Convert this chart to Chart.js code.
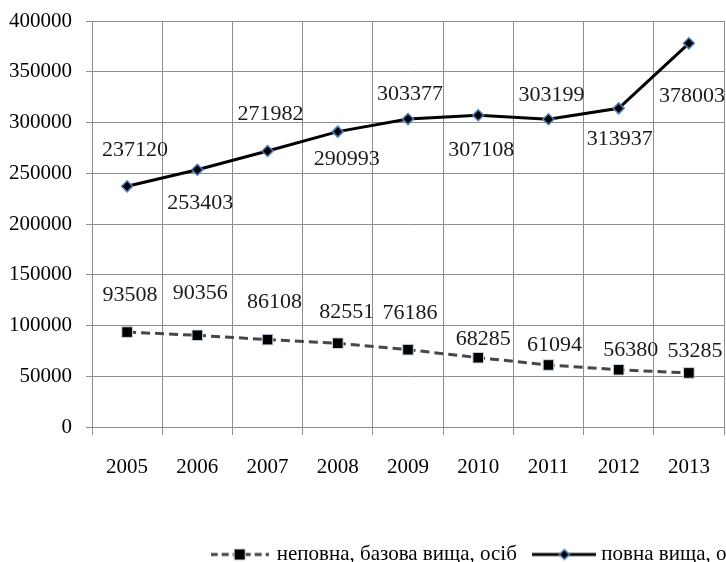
<!DOCTYPE html>
<html lang="uk">
<head>
<meta charset="utf-8">
<title>Чисельність осіб за рівнем освіти, 2005–2013</title>
<script src="https://cdn.jsdelivr.net/npm/chart.js@4.4.1/dist/chart.umd.min.js"></script>
<style>
  html, body { margin: 0; padding: 0; background: #ffffff; overflow: hidden; }
  #wrap { width: 726px; height: 562px; overflow: hidden; }
  canvas { display: block; }
</style>
</head>
<body>
<div id="wrap"><canvas id="chart" width="966" height="562"></canvas></div>
<script>
// Years on the category axis
const years = ['2005', '2006', '2007', '2008', '2009', '2010', '2011', '2012', '2013'];

// Series names
const partialName = 'неповна, базова вища, осіб';
const fullName = 'повна вища, осіб';

// Number of people per year
const partialValues = [93508, 90356, 86108, 82551, 76186, 68285, 61094, 56380, 53285];
const fullValues = [237120, 253403, 271982, 290993, 303377, 307108, 303199, 313937, 378003];

// Value axis ticks
const yMin = 0;
const yMax = 400000;
const yStep = 50000;

// Where each value label sits relative to its point (pixels: right, down)
const partialLabelShift = [[3, -37], [3, -42], [7, -37], [9, -31], [2, -36], [5, -18], [6, -20], [12, -20], [6, -22]];
const fullLabelShift = [[8, -36], [3, 33], [3, -37], [9, 28], [2, -25], [3, 35], [3, -24], [1, 31], [3, 53]];

const CANVAS_W = 966;
const PLOT_RIGHT = 724;
const SERIF = '"Liberation Serif", "Times New Roman", "DejaVu Serif", serif';
const GRID = '#8e8e8e';

// Small line-with-marker swatches for the legend
function swatch(width, dashed) {
  const c = document.createElement('canvas');
  c.width = width;
  c.height = 14;
  const g = c.getContext('2d');
  const cy = 7;
  g.lineWidth = 3;
  g.strokeStyle = dashed ? '#404040' : '#000000';
  g.setLineDash(dashed ? [7, 4] : []);
  g.beginPath();
  g.moveTo(0, cy);
  g.lineTo(width, cy);
  g.stroke();
  g.setLineDash([]);
  const cx = width / 2;
  if (dashed) {
    g.fillStyle = '#000000';
    g.fillRect(cx - 5, cy - 5, 10, 10);
    g.strokeStyle = '#c9d4e6';
    g.lineWidth = 1;
    g.strokeRect(cx - 5.5, cy - 5.5, 11, 11);
  } else {
    g.beginPath();
    g.moveTo(cx - 5, cy);
    g.lineTo(cx, cy - 5);
    g.lineTo(cx + 5, cy);
    g.lineTo(cx, cy + 5);
    g.closePath();
    g.fillStyle = '#000000';
    g.fill();
    g.strokeStyle = '#4f81bd';
    g.lineWidth = 1.5;
    g.stroke();
  }
  return c;
}
const partialSwatch = swatch(58, true);
const fullSwatch = swatch(64, false);

// Writes the value next to each point
const valueLabels = {
  id: 'valueLabels',
  afterDatasetsDraw(chart) {
    const ctx = chart.ctx;
    ctx.save();
    ctx.font = '22px ' + SERIF;
    ctx.fillStyle = '#1a1a1a';
    ctx.textAlign = 'center';
    ctx.textBaseline = 'middle';
    chart.data.datasets.forEach((ds, i) => {
      const meta = chart.getDatasetMeta(i);
      const shifts = ds.labelShift;
      meta.data.forEach((pt, j) => {
        const s = shifts[j];
        ctx.fillText(String(ds.data[j]), pt.x + s[0], pt.y + s[1]);
      });
    });
    ctx.restore();
  }
};

new Chart(document.getElementById('chart'), {
  type: 'line',
  data: {
    labels: years,
    datasets: [
      {
        label: partialName,
        data: partialValues,
        labelShift: partialLabelShift,
        swatch: partialSwatch,
        borderColor: '#474747',
        borderWidth: 3,
        borderDash: [9, 5],
        pointStyle: 'rect',
        pointRadius: 7.5,
        pointBackgroundColor: '#000000',
        pointBorderColor: '#c9d4e6',
        pointBorderWidth: 1,
        tension: 0
      },
      {
        label: fullName,
        data: fullValues,
        labelShift: fullLabelShift,
        swatch: fullSwatch,
        borderColor: '#000000',
        borderWidth: 3,
        pointStyle: 'rectRot',
        pointRadius: 5.5,
        pointBackgroundColor: '#000000',
        pointBorderColor: '#4f81bd',
        pointBorderWidth: 1.5,
        tension: 0
      }
    ]
  },
  options: {
    responsive: false,
    animation: false,
    devicePixelRatio: 1,
    layout: { padding: { top: 21, right: 0, left: 0, bottom: 0 } },
    plugins: {
      tooltip: { enabled: false },
      legend: {
        position: 'bottom',
        align: 'center',
        maxHeight: 39,
        labels: {
          usePointStyle: true,
          pointStyleWidth: 53,
          padding: 21,
          color: '#000000',
          font: { family: SERIF, size: 21 },
          generateLabels(chart) {
            return chart.data.datasets.map((ds, i) => ({
              text: ds.label,
              pointStyle: ds.swatch,
              fillStyle: '#000000',
              strokeStyle: '#000000',
              lineWidth: 0,
              fontColor: '#000000',
              hidden: false,
              datasetIndex: i
            }));
          }
        }
      }
    },
    scales: {
      x: {
        type: 'category',
        offset: true,
        afterFit(scale) { scale.height = 96; },
        grid: {
          offset: true,
          color: GRID,
          lineWidth: 1,
          tickLength: 8,
          drawTicks: true
        },
        border: { color: GRID, width: 1 },
        ticks: {
          color: '#000000',
          padding: 20,
          maxRotation: 0,
          font: { family: SERIF, size: 21 }
        }
      },
      y: {
        min: yMin,
        max: yMax,
        afterFit(scale) {
          scale.width = 92;
          scale.paddingTop = 0;
          scale.paddingBottom = 0;
        },
        grid: {
          color: GRID,
          lineWidth: 1,
          tickLength: 6
        },
        border: { color: GRID, width: 1 },
        ticks: {
          stepSize: yStep,
          color: '#000000',
          padding: 14,
          font: { family: SERIF, size: 21 },
          callback: (v) => String(v)
        }
      },
      // empty band on the right that keeps the plot clear of the far edge
      side: {
        type: 'linear',
        position: 'right',
        display: true,
        afterFit(scale) {
          scale.width = CANVAS_W - PLOT_RIGHT;
          scale.paddingTop = 0;
          scale.paddingBottom = 0;
        },
        grid: { display: false, drawTicks: false },
        border: { display: false },
        ticks: { display: false }
      }
    }
  },
  plugins: [valueLabels]
});
</script>
</body>
</html>
